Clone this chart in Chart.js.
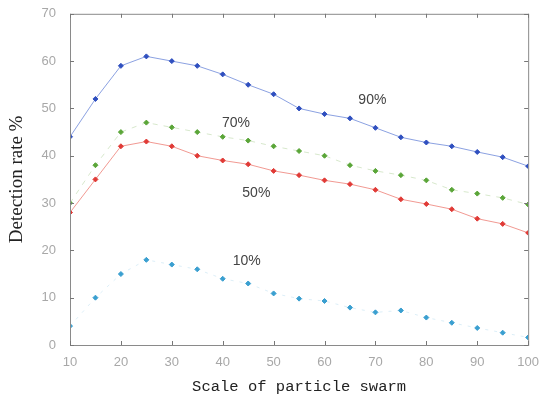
<!DOCTYPE html>
<html>
<head>
<meta charset="utf-8">
<script src="https://cdn.jsdelivr.net/npm/chart.js@4/dist/chart.umd.min.js"></script>
<style>
  html, body { margin: 0; padding: 0; background: #fff; }
  canvas { display: block; }
</style>
</head>
<body>
<canvas id="c" width="541" height="398"></canvas>
<script>
// swarm scale (x) and detection rate per abnormal ratio
const swarmScale = [10, 15, 20, 25, 30, 35, 40, 45, 50, 55, 60, 65, 70, 75, 80, 85, 90, 95, 100]
const rate90 = [44, 52, 59, 61, 60, 59, 57.2, 55, 53, 50, 48.8, 47.9, 45.9, 43.9, 42.8, 42, 40.8, 39.7, 37.8]
const rate70 = [30, 38, 45, 47, 46, 45, 44, 43.2, 42, 41, 40, 38, 36.8, 35.9, 34.8, 32.8, 32, 31.1, 29.7]
const rate50 = [28, 35, 42, 43, 42, 40, 39, 38.2, 36.8, 35.9, 34.8, 34, 32.8, 30.8, 29.8, 28.7, 26.7, 25.6, 23.7]
const rate10 = [4, 10, 15, 18, 17, 16, 14, 13, 10.9, 9.8, 9.3, 7.9, 6.9, 7.3, 5.8, 4.7, 3.6, 2.6, 1.6]
const yTicks = [0, 10, 20, 30, 40, 50, 60, 70]
const xTicks = [10, 20, 30, 40, 50, 60, 70, 80, 90, 100]

// curve labels placed at data coords
const curveLabels = [
    { text: '90%', x: 69.4, y: 51.7 },
    { text: '70%', x: 42.6, y: 46.8 },
    { text: '50%', x: 46.6, y: 32 },
    { text: '10%', x: 44.7, y: 17.7 }
]

// matlab style box with inward ticks + curve labels
const matlabBox = {
    id: 'matlabBox',
    afterDraw(chart) {
        const { ctx, chartArea: a, scales } = chart
        ctx.save()
        ctx.strokeStyle = '#8a8a8a'
        ctx.lineWidth = 1
        ctx.strokeRect(a.left + 0.5, a.top + 0.5, a.right - a.left, a.bottom - a.top)
        ctx.strokeStyle = '#777'
        ctx.beginPath()
        xTicks.forEach(v => {
            const px = Math.round(scales.x.getPixelForValue(v)) + 0.5
            ctx.moveTo(px, a.bottom); ctx.lineTo(px, a.bottom - 4)
            ctx.moveTo(px, a.top); ctx.lineTo(px, a.top + 4)
        })
        yTicks.forEach(v => {
            const py = Math.round(scales.y.getPixelForValue(v)) + 0.5
            ctx.moveTo(a.left, py); ctx.lineTo(a.left + 4, py)
            ctx.moveTo(a.right, py); ctx.lineTo(a.right - 4, py)
        })
        ctx.stroke()

        ctx.fillStyle = '#444'
        ctx.font = '14px "Liberation Sans", Arial, sans-serif'
        ctx.textAlign = 'center'
        ctx.textBaseline = 'middle'
        curveLabels.forEach(l => {
            ctx.fillText(l.text, scales.x.getPixelForValue(l.x), scales.y.getPixelForValue(l.y))
        })
        ctx.restore()
    }
}

function series(label, data, color, lineColor, dash) {
    return {
        label: label,
        data: data,
        borderColor: lineColor,
        backgroundColor: color,
        pointBackgroundColor: color,
        pointBorderColor: color,
        pointStyle: 'rectRot',
        pointRadius: 2.5,
        borderWidth: 1,
        borderDash: dash,
        tension: 0
    }
}

new Chart(document.getElementById('c'), {
    type: 'line',
    data: {
        labels: swarmScale,
        datasets: [
            series('90%', rate90, '#2f4fbf', 'rgba(100,130,215,0.75)', []),
            series('70%', rate70, '#5aa538', 'rgba(140,190,110,0.35)', [5, 6]),
            series('50%', rate50, '#e03a36', 'rgba(235,110,100,0.7)', []),
            series('10%', rate10, '#3a9fd0', 'rgba(140,200,230,0.3)', [3, 6])
        ]
    },
    options: {
        responsive: false,
        animation: false,
        layout: { padding: { top: 13, right: 9, left: 0, bottom: 0 } },
        plugins: { legend: { display: false }, tooltip: { enabled: false } },
        scales: {
            x: {
                type: 'linear',
                min: 10,
                max: 100,
                afterFit: s => { s.height = 53 },
                afterBuildTicks: s => { s.ticks = xTicks.map(v => ({ value: v })) },
                grid: { display: false },
                border: { display: false },
                ticks: { color: '#a8a8a8', font: { size: 13, family: 'Liberation Sans' }, padding: 2, maxRotation: 0, autoSkip: false },
                title: {
                    display: true,
                    text: 'Scale of particle swarm',
                    color: '#222',
                    font: { size: 15.5, family: 'Liberation Mono' },
                    padding: { top: 8, bottom: 2 }
                }
            },
            y: {
                min: 0,
                max: 70,
                afterFit: s => { s.width = 70 },
                afterBuildTicks: s => { s.ticks = yTicks.map(v => ({ value: v })) },
                grid: { display: false },
                border: { display: false },
                ticks: { color: '#a8a8a8', font: { size: 13, family: 'Liberation Sans' }, padding: 6, autoSkip: false },
                title: {
                    display: true,
                    text: 'Detection rate %',
                    color: '#222',
                    font: { size: 19, family: 'Liberation Serif' },
                    padding: { top: 6, bottom: 0 }
                }
            }
        }
    },
    plugins: [matlabBox]
})
</script>
</body>
</html>
